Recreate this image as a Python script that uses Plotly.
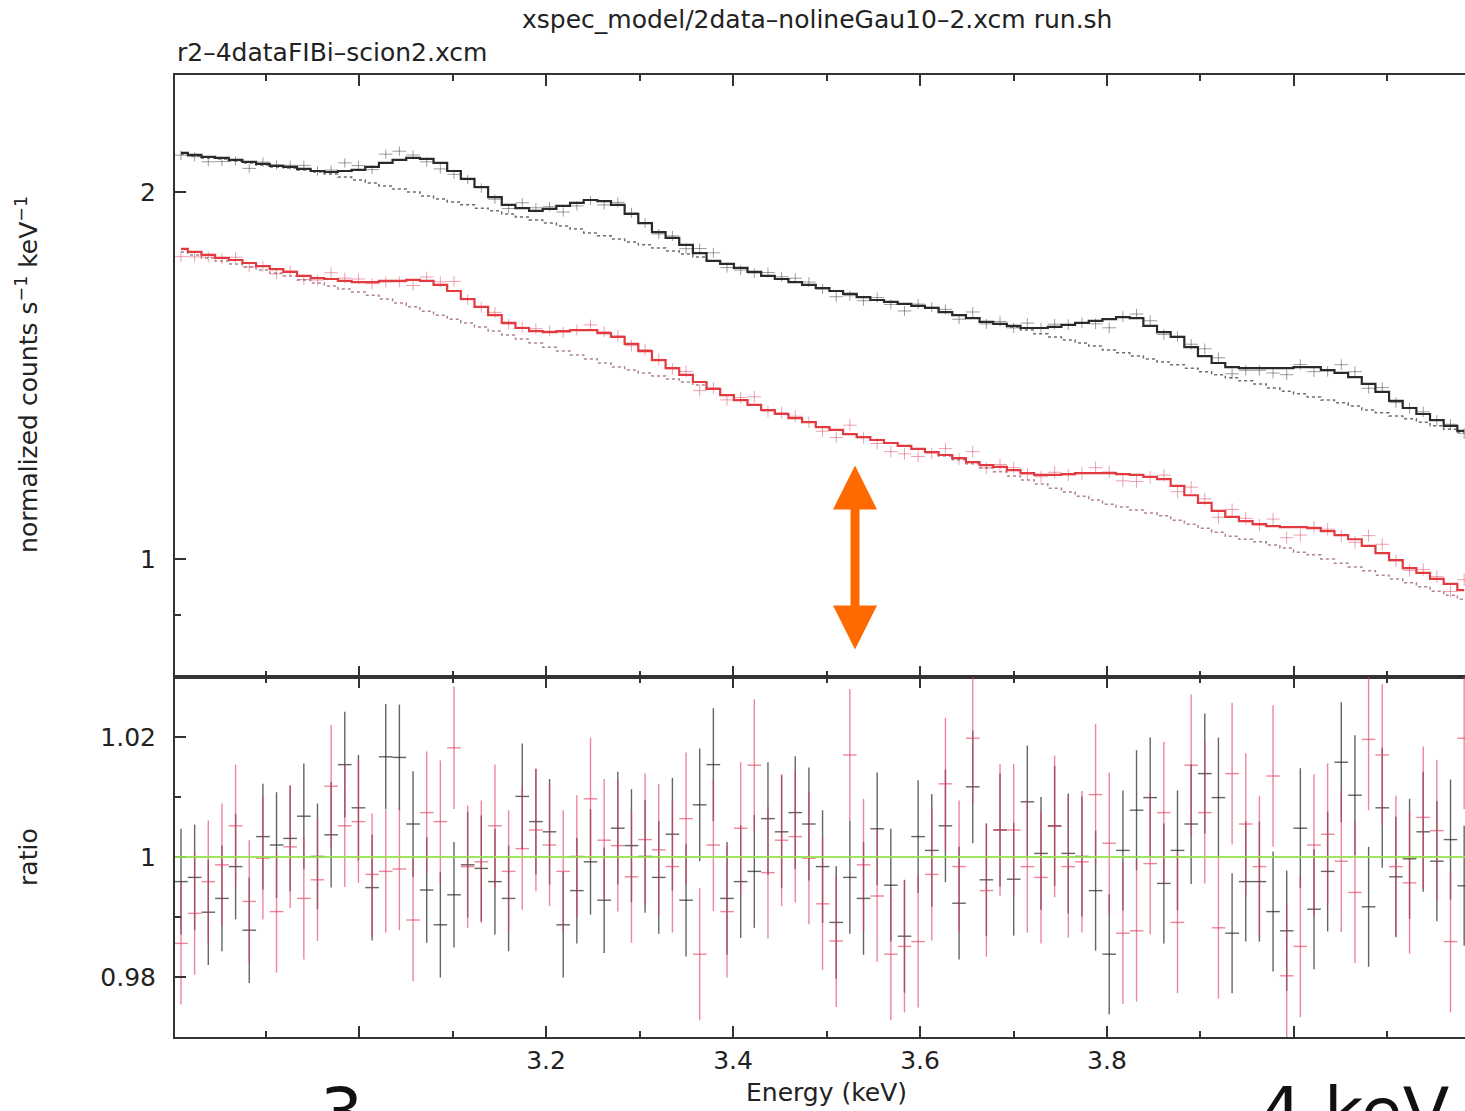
import numpy as np
import plotly.graph_objects as go

# ---------------- data ----------------
n_bins = 95
energy = np.round(2.8096 + 0.0146 * np.arange(n_bins), 4)   # keV, bin centres (14.6 eV bins)
half_bin = 0.0073

model_black = [2.153, 2.145, 2.137, 2.133, 2.125, 2.117, 2.109, 2.101, 2.097, 2.089,
               2.081, 2.077, 2.081, 2.085, 2.097, 2.113, 2.125, 2.133, 2.129, 2.113,
               2.081, 2.050, 2.019, 1.981, 1.952, 1.940, 1.930, 1.937, 1.948, 1.959,
               1.970, 1.966, 1.952, 1.919, 1.886, 1.854, 1.834, 1.810, 1.782, 1.756,
               1.746, 1.733, 1.720, 1.707, 1.697, 1.687, 1.678, 1.668, 1.659, 1.650,
               1.640, 1.631, 1.625, 1.619, 1.613, 1.607, 1.594, 1.585, 1.576, 1.565,
               1.559, 1.553, 1.547, 1.547, 1.550, 1.556, 1.562, 1.568, 1.573, 1.579,
               1.576, 1.553, 1.535, 1.521, 1.492, 1.467, 1.448, 1.437, 1.434, 1.434,
               1.434, 1.434, 1.437, 1.437, 1.429, 1.421, 1.410, 1.392, 1.371, 1.348,
               1.330, 1.315, 1.300, 1.286, 1.274]

cont_black = [2.149, 2.141, 2.133, 2.129, 2.121, 2.113, 2.105, 2.097, 2.093, 2.085,
              2.077, 2.069, 2.057, 2.046, 2.034, 2.023, 2.011, 2.000, 1.985, 1.974,
              1.963, 1.952, 1.940, 1.930, 1.919, 1.908, 1.897, 1.886, 1.876, 1.865,
              1.851, 1.841, 1.830, 1.820, 1.810, 1.799, 1.789, 1.779, 1.769, 1.756,
              1.746, 1.733, 1.720, 1.707, 1.697, 1.687, 1.678, 1.668, 1.659, 1.650,
              1.640, 1.631, 1.625, 1.619, 1.613, 1.607, 1.594, 1.585, 1.576, 1.565,
              1.559, 1.550, 1.541, 1.530, 1.521, 1.512, 1.504, 1.495, 1.484, 1.476,
              1.467, 1.459, 1.451, 1.443, 1.434, 1.424, 1.416, 1.408, 1.400, 1.392,
              1.381, 1.373, 1.366, 1.358, 1.350, 1.343, 1.335, 1.325, 1.318, 1.310,
              1.303, 1.295, 1.286, 1.278, 1.271]

model_red = [1.796, 1.786, 1.776, 1.766, 1.759, 1.749, 1.739, 1.729, 1.720, 1.707,
             1.700, 1.697, 1.691, 1.687, 1.687, 1.691, 1.691, 1.694, 1.691, 1.678,
             1.659, 1.634, 1.610, 1.585, 1.562, 1.547, 1.538, 1.535, 1.538, 1.541,
             1.541, 1.532, 1.521, 1.501, 1.481, 1.456, 1.434, 1.416, 1.397, 1.379,
             1.363, 1.350, 1.338, 1.325, 1.315, 1.305, 1.295, 1.283, 1.276, 1.266,
             1.259, 1.252, 1.245, 1.238, 1.231, 1.224, 1.217, 1.210, 1.201, 1.194,
             1.190, 1.183, 1.176, 1.172, 1.172, 1.174, 1.176, 1.176, 1.176, 1.174,
             1.172, 1.168, 1.163, 1.148, 1.128, 1.112, 1.095, 1.083, 1.074, 1.068,
             1.064, 1.062, 1.062, 1.060, 1.054, 1.046, 1.038, 1.025, 1.011, 0.998,
             0.983, 0.974, 0.963, 0.954, 0.943]

cont_red = [1.786, 1.776, 1.766, 1.756, 1.746, 1.736, 1.726, 1.716, 1.707, 1.694,
            1.684, 1.675, 1.665, 1.656, 1.646, 1.634, 1.622, 1.610, 1.597, 1.585,
            1.573, 1.562, 1.550, 1.538, 1.527, 1.515, 1.504, 1.492, 1.481, 1.470,
            1.459, 1.448, 1.437, 1.429, 1.421, 1.413, 1.405, 1.397, 1.389, 1.379,
            1.363, 1.350, 1.338, 1.325, 1.315, 1.305, 1.295, 1.283, 1.276, 1.266,
            1.259, 1.252, 1.245, 1.238, 1.231, 1.224, 1.215, 1.206, 1.197, 1.188,
            1.179, 1.170, 1.161, 1.152, 1.143, 1.135, 1.126, 1.118, 1.109, 1.103,
            1.097, 1.091, 1.085, 1.076, 1.068, 1.060, 1.052, 1.044, 1.038, 1.033,
            1.027, 1.021, 1.013, 1.008, 1.000, 0.992, 0.985, 0.978, 0.970, 0.963,
            0.956, 0.949, 0.941, 0.934, 0.927]

ratio_black = [0.9959, 0.9966, 0.9908, 0.9931, 0.9984, 0.9878, 1.0034, 1.0020, 1.0031, 1.0068,
               1.0001, 1.0037, 1.0154, 1.0082, 0.9949, 1.0167, 1.0166, 1.0055, 0.9945, 0.9887,
               0.9937, 0.9987, 0.9981, 0.9959, 0.9931, 1.0101, 1.0059, 1.0042, 0.9887, 0.9944,
               0.9992, 0.9928, 1.0048, 1.0019, 1.0001, 0.9966, 1.0038, 0.9928, 1.0087, 1.0154,
               0.9931, 0.9959, 0.9976, 1.0064, 1.0042, 1.0074, 1.0055, 0.9984, 0.9891, 0.9966,
               0.9931, 1.0047, 0.9953, 0.9868, 1.0034, 1.0011, 1.0052, 0.9923, 1.0117, 0.9962,
               1.0045, 0.9963, 1.0092, 1.0006, 1.0052, 1.0006, 1.0001, 0.9944, 0.9838, 1.0011,
               1.0078, 1.0099, 0.9956, 1.0011, 1.0055, 1.0139, 1.0099, 0.9873, 0.9959, 0.9959,
               0.9909, 0.9877, 1.0048, 0.9913, 0.9976, 1.0158, 1.0103, 0.9917, 1.0082, 0.9967,
               0.9997, 1.0042, 0.9993, 1.0029, 0.9952]

ratio_red = [0.9856, 0.9906, 0.9959, 0.9987, 1.0052, 0.9926, 0.9998, 0.9909, 1.0017, 0.9931,
             0.9962, 1.0118, 1.0052, 1.0059, 0.9971, 0.9976, 0.9980, 0.9895, 1.0074, 1.0059,
             1.0182, 0.9984, 0.9992, 1.0052, 0.9976, 1.0014, 1.0045, 1.0020, 0.9976, 1.0001,
             1.0097, 1.0028, 1.0019, 0.9967, 1.0029, 1.0012, 0.9984, 1.0064, 0.9838, 1.0020,
             0.9909, 1.0048, 1.0153, 0.9974, 1.0028, 1.0034, 0.9998, 0.9922, 0.9860, 1.0170,
             0.9987, 0.9935, 0.9838, 0.9851, 0.9859, 0.9971, 1.0122, 0.9984, 1.0198, 0.9944,
             1.0045, 1.0045, 0.9984, 0.9966, 1.0051, 0.9984, 0.9992, 1.0104, 1.0023, 0.9873,
             0.9877, 0.9989, 1.0074, 0.9891, 1.0153, 1.0074, 0.9882, 1.0139, 1.0055, 0.9984,
             1.0135, 0.9802, 0.9851, 1.0020, 1.0038, 0.9993, 0.9941, 1.0196, 1.0170, 0.9984,
             0.9957, 1.0066, 1.0044, 0.9859, 1.0198]

# 1-sigma ratio errors (low / mid / high energy thirds of the band)
err_black = np.repeat([0.0088, 0.0094, 0.0100], [32, 32, 31])
err_red = np.repeat([0.0102, 0.0110, 0.0118], [32, 32, 31])

x_major = [3.0, 3.2, 3.4, 3.6, 3.8, 4.0]
x_major_text = ["", "3.2", "3.4", "3.6", "3.8", ""]   # 3 and 4 are covered by the overlay labels
x_minor = [2.9, 3.1, 3.3, 3.5, 3.7, 3.9, 4.1]

title_top = "xspec_model/2data–nolineGau10–2.xcm run.sh"
title_sub = "r2–4dataFIBi–scion2.xcm"

# ---------------- derived ----------------
model_black = np.array(model_black)
model_red = np.array(model_red)
ratio_black = np.array(ratio_black)
ratio_red = np.array(ratio_red)
data_black = model_black * ratio_black
data_red = model_red * ratio_red

FONT = "DejaVu Sans"
AX = "#333333"
BLK_BAR = "rgba(40,40,40,0.72)"
RED_BAR = "rgba(226,60,95,0.62)"

fig = go.Figure()

# ---- top panel ----
fig.add_trace(go.Scatter(
    x=energy, y=data_black, mode="markers", xaxis="x", yaxis="y",
    marker=dict(size=1, color="rgba(0,0,0,0)"),
    error_x=dict(type="data", array=[half_bin] * n_bins, color="rgba(60,60,60,0.5)", thickness=1, width=0),
    error_y=dict(type="data", array=data_black * err_black, color="rgba(60,60,60,0.5)", thickness=1, width=0),
    hoverinfo="skip"))
fig.add_trace(go.Scatter(
    x=energy, y=data_red, mode="markers", xaxis="x", yaxis="y",
    marker=dict(size=1, color="rgba(0,0,0,0)"),
    error_x=dict(type="data", array=[half_bin] * n_bins, color="rgba(220,70,100,0.5)", thickness=1, width=0),
    error_y=dict(type="data", array=data_red * err_red, color="rgba(220,70,100,0.5)", thickness=1, width=0),
    hoverinfo="skip"))
fig.add_trace(go.Scatter(
    x=energy, y=cont_black, mode="lines", xaxis="x", yaxis="y",
    line=dict(color="rgba(60,60,60,0.75)", width=1.5, dash="dot", shape="hvh")))
fig.add_trace(go.Scatter(
    x=energy, y=cont_red, mode="lines", xaxis="x", yaxis="y",
    line=dict(color="rgba(150,90,100,0.75)", width=1.5, dash="dot", shape="hvh")))
fig.add_trace(go.Scatter(
    x=energy, y=model_black, mode="lines", xaxis="x", yaxis="y",
    line=dict(color="#2a2a2a", width=2.2, shape="hvh")))
fig.add_trace(go.Scatter(
    x=energy, y=model_red, mode="lines", xaxis="x", yaxis="y",
    line=dict(color="#e23a3f", width=2.2, shape="hvh")))

# ---- ratio panel ----
fig.add_trace(go.Scatter(
    x=energy, y=ratio_black, mode="markers", xaxis="x2", yaxis="y2",
    marker=dict(size=1, color="rgba(0,0,0,0)"),
    error_x=dict(type="data", array=[half_bin] * n_bins, color=BLK_BAR, thickness=1.4, width=0),
    error_y=dict(type="data", array=err_black, color=BLK_BAR, thickness=1.4, width=0),
    hoverinfo="skip"))
fig.add_trace(go.Scatter(
    x=energy, y=ratio_red, mode="markers", xaxis="x2", yaxis="y2",
    marker=dict(size=1, color="rgba(0,0,0,0)"),
    error_x=dict(type="data", array=[half_bin] * n_bins, color=RED_BAR, thickness=1.4, width=0),
    error_y=dict(type="data", array=err_red, color=RED_BAR, thickness=1.4, width=0),
    hoverinfo="skip"))

x_range = [2.8032, 4.1829]
tickfont = dict(family=FONT, size=25, color="#222")

common_x = dict(range=x_range, tickmode="array", tickvals=x_major, ticktext=x_major_text,
                ticks="inside", ticklen=11, tickwidth=1.6, tickcolor=AX,
                minor=dict(tickmode="array", tickvals=x_minor, ticks="inside", ticklen=6,
                           tickwidth=1.6, tickcolor=AX),
                showline=True, linecolor=AX, linewidth=2, mirror="ticks",
                showgrid=False, zeroline=False, tickfont=tickfont)

fig.update_layout(
    width=1465, height=1111,
    margin=dict(l=175, r=0, t=75, b=74),
    paper_bgcolor="white", plot_bgcolor="white",
    showlegend=False,
    xaxis=dict(anchor="y", showticklabels=False, **common_x),
    xaxis2=dict(anchor="y2", matches="x", showticklabels=True, ticklabelstandoff=0, **common_x),
    yaxis=dict(domain=[0.3742, 1.0], anchor="x", type="log", range=[-0.0968, 0.3970],
               tickmode="array", tickvals=[1, 2], ticktext=["1", "2"],
               ticks="inside", ticklen=11, tickwidth=1.6, tickcolor=AX,
               minor=dict(tickmode="array", tickvals=[0.9], ticks="inside", ticklen=6,
                          tickwidth=1.6, tickcolor=AX),
               showline=True, linecolor=AX, linewidth=2, mirror=False,
               showgrid=False, zeroline=False, tickfont=tickfont, ticklabelstandoff=12),
    yaxis2=dict(domain=[0.0, 0.3742], anchor="x2", range=[0.97, 1.03],
                tickmode="array", tickvals=[0.98, 1.0, 1.02], ticktext=["0.98", "1", "1.02"],
                ticks="inside", ticklen=11, tickwidth=1.6, tickcolor=AX,
                minor=dict(tickmode="array", tickvals=[0.99, 1.01], ticks="inside", ticklen=6,
                           tickwidth=1.6, tickcolor=AX),
                showline=True, linecolor=AX, linewidth=2, mirror=False,
                showgrid=False, zeroline=False, tickfont=tickfont, ticklabelstandoff=12),
)

shapes = [
    # ratio = 1 reference line
    dict(type="line", xref="x2 domain", yref="y2", x0=0, x1=1, y0=1.0, y1=1.0,
         line=dict(color="rgba(150,225,80,0.9)", width=2), layer="above"),
]
# orange double-headed arrow (pixel-sized, anchored in the top panel)
ARROW = "#ff6a00"
for p in ["M -4.5,-50 L 4.5,-50 L 4.5,50 L -4.5,50 Z",
          "M -22,48 L 22,48 L 0,92 Z",
          "M -22,-48 L 22,-48 L 0,-92 Z"]:
    shapes.append(dict(type="path", path=p, xref="x", yref="paper",
                       xsizemode="pixel", ysizemode="pixel",
                       xanchor=3.5305, yanchor=0.4984,
                       fillcolor=ARROW, line=dict(width=0), layer="above"))
fig.update_layout(shapes=shapes)

lab = dict(family=FONT, size=25, color="#222")
annotations = [
    dict(text=title_top, xref="paper", yref="paper", x=0.4977, y=1.0572,
         xanchor="center", yanchor="middle", showarrow=False, font=lab),
    dict(text=title_sub, xref="paper", yref="paper", x=0.0, y=1.0229,
         xanchor="left", yanchor="middle", showarrow=False, font=lab),
    dict(text="normalized counts s<sup>−1</sup> keV<sup>−1</sup>", xref="paper", yref="paper",
         x=-0.1140, y=0.6892, xanchor="center", yanchor="middle", textangle=-90,
         showarrow=False, font=lab),
    dict(text="ratio", xref="paper", yref="paper", x=-0.1140, y=0.1871,
         xanchor="center", yanchor="middle", textangle=-90, showarrow=False, font=lab),
    dict(text="Energy (keV)", xref="paper", yref="paper", x=0.5047, y=-0.0582,
         xanchor="center", yanchor="middle", showarrow=False, font=lab),
    # large overlay labels (cut by the bottom edge of the picture)
    dict(text="3", xref="paper", yref="paper", x=0.1287, y=-0.0353,
         xanchor="center", yanchor="top", showarrow=False, bgcolor="white",
         font=dict(family=FONT, size=68, color="#111")),
    dict(text="4 keV", xref="paper", yref="paper", x=0.8388, y=-0.0353,
         xanchor="left", yanchor="top", showarrow=False, bgcolor="white",
         font=dict(family=FONT, size=68, color="#111")),
]
fig.update_layout(annotations=annotations)

fig.write_html("out.html")
